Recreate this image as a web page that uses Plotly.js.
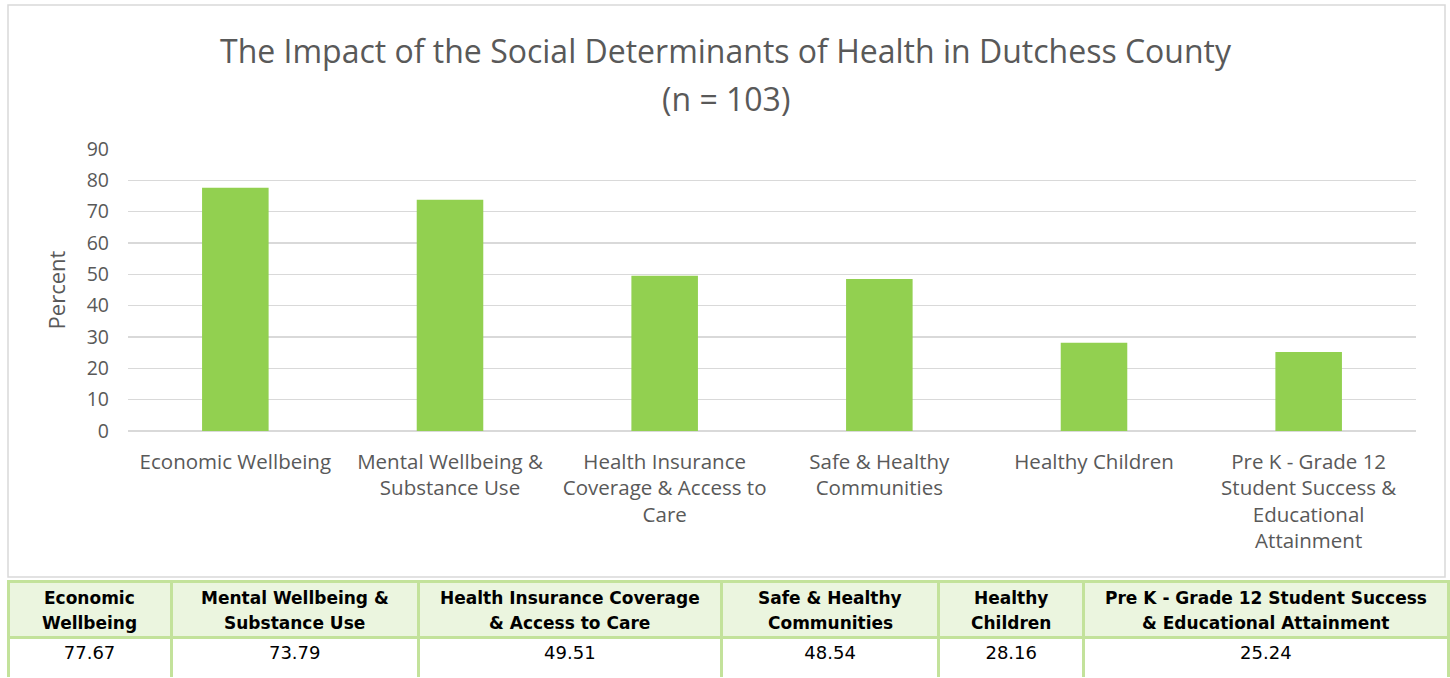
<!DOCTYPE html>
<html>
<head>
<meta charset="utf-8">
<script src="https://cdn.plot.ly/plotly-3.0.1.min.js"></script>
<style>html,body{margin:0;padding:0;background:#fff;}#chart{width:1450px;height:678px;}</style>
</head>
<body>
<div id="chart"></div>
<script>
// ---- data ----
var titleLines = ["The Impact of the Social Determinants of Health in Dutchess County", "(n = 103)"];
var categories = ["Economic Wellbeing", "Mental Wellbeing & Substance Use", "Health Insurance Coverage & Access to Care", "Safe & Healthy Communities", "Healthy Children", "Pre K - Grade 12 Student Success & Educational Attainment"];
var values = [77.67, 73.79, 49.51, 48.54, 28.16, 25.24];
var axisLabels = ["Economic Wellbeing", "Mental Wellbeing &<br>Substance Use", "Health Insurance<br>Coverage & Access to<br>Care", "Safe & Healthy<br>Communities", "Healthy Children", "Pre K - Grade 12<br>Student Success &<br>Educational<br>Attainment"];
var tableHeaders = ["Economic<br>Wellbeing", "Mental Wellbeing &<br>Substance Use", "Health Insurance Coverage<br>& Access to Care", "Safe & Healthy<br>Communities", "Healthy<br>Children", "Pre K - Grade 12 Student Success<br>& Educational Attainment"];
var yTicks = [0, 10, 20, 30, 40, 50, 60, 70, 80, 90];

var W = 1450, H = 678;
function px(x){ return x / W; }
function py(y){ return 1 - y / H; }

var FONT = "'Open Sans', sans-serif";
var TFONT = "'DejaVu Sans', sans-serif";

// table geometry
var tableLeft = 8, tableRight = 1448;
var colWidths = [163, 247, 303, 217, 145, 364];

var bar = {
  type: "bar",
  x: categories,
  y: values,
  marker: {color: "#92D050"},
  hoverinfo: "x+y",
  xaxis: "x", yaxis: "y"
};

var table = {
  type: "table",
  domain: {x: [px(tableLeft), px(tableRight)], y: [0, py(581)]},
  columnwidth: colWidths,
  header: {
    values: tableHeaders.map(function(){ return " "; }),
    align: "center",
    height: 56,
    fill: {color: "#EBF5DF"},
    line: {color: "#C3E29B", width: 3},
    font: {family: TFONT, size: 17, color: "#000000", weight: "bold"}
  },
  cells: {
    values: values.map(function(v){ return [v.toFixed(2)]; }),
    align: "center",
    height: 42,
    fill: {color: "#FFFFFF"},
    line: {color: "#C3E29B", width: 3},
    font: {family: TFONT, size: 18, color: "#000000"}
  }
};

var annotations = [
  {text: titleLines[0], xref: "paper", yref: "paper", x: px(726), y: py(50), xanchor: "center", yanchor: "middle",
   showarrow: false, font: {family: FONT, size: 32, color: "#595959"}},
  {text: titleLines[1], xref: "paper", yref: "paper", x: px(726), y: py(98), xanchor: "center", yanchor: "middle",
   showarrow: false, font: {family: FONT, size: 32, color: "#595959"}}
];

// header labels, each line centred in its column
var totalW = colWidths.reduce(function(a, b){ return a + b; }, 0);
var scale = (tableRight - tableLeft) / totalW;
var cursor = tableLeft;
colWidths.forEach(function(w, i){
  var cx = cursor + w * scale / 2;
  cursor += w * scale;
  tableHeaders[i].split("<br>").forEach(function(line, j){
    annotations.push({text: "<b>" + line + "</b>", xref: "paper", yref: "paper", x: px(cx), y: py(598 + j * 25),
      xanchor: "center", yanchor: "middle", showarrow: false,
      font: {family: TFONT, size: 17, color: "#000000"}});
  });
});

var layout = {
  width: W, height: H,
  margin: {l: 0, r: 0, t: 0, b: 0, pad: 0},
  paper_bgcolor: "#FFFFFF",
  plot_bgcolor: "#FFFFFF",
  showlegend: false,
  bargap: 0.69,
  font: {family: FONT, color: "#595959"},
  xaxis: {
    domain: [px(128), px(1416)],
    tickmode: "array",
    tickvals: categories,
    ticktext: axisLabels,
    tickfont: {family: FONT, size: 20.5, color: "#595959"},
    ticklabelstandoff: 16,
    showgrid: false, zeroline: false,
    showline: false, ticks: "",
    fixedrange: true
  },
  yaxis: {
    domain: [py(431), py(149)],
    range: [0, 90],
    tickmode: "array",
    tickvals: yTicks,
    tickfont: {family: FONT, size: 19.5, color: "#595959"},
    gridcolor: "#D9D9D9", gridwidth: 1.5,
    zeroline: true, zerolinecolor: "#D9D9D9", zerolinewidth: 1.5,
    showline: false, ticks: "", ticklabelstandoff: 18,
    title: {text: "Percent", font: {family: FONT, size: 22, color: "#595959"}, standoff: 14},
    fixedrange: true
  },
  annotations: annotations,
  shapes: [
    {type: "rect", xref: "paper", yref: "paper", x0: px(8), x1: px(1445), y0: py(577), y1: py(5),
     line: {color: "#D9D9D9", width: 1.5}, fillcolor: "rgba(0,0,0,0)", layer: "below"}
  ]
};

Plotly.newPlot("chart", [bar, table], layout, {displayModeBar: false, staticPlot: true});
</script>
</body>
</html>
